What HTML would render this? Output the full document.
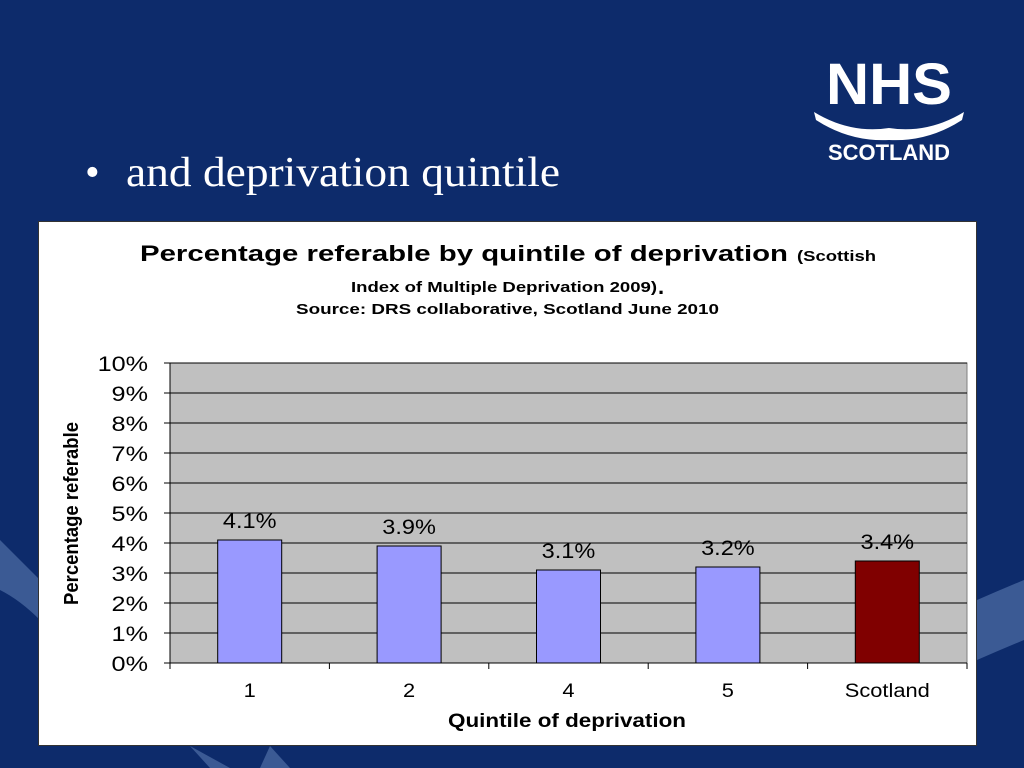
<!DOCTYPE html>
<html><head><meta charset="utf-8"><style>
body{margin:0;width:1024px;height:768px;overflow:hidden;background:#0d2b6b;font-family:"Liberation Sans",sans-serif;position:relative}
svg{position:absolute;left:0;top:0}
</style></head><body>
<svg width="1024" height="768">
<path d="M0 540 Q20 560 40 580 L40 620 Q20 600 0 590Z" fill="#3b5a94"/>
<path d="M977 600 Q1000 590 1024 580 L1024 640 Q1000 650 977 660Z" fill="#3b5a94"/>
<path d="M190 746 L230 768 L210 768Z" fill="#3b5a94"/>
<path d="M270 746 L260 768 L290 768Z" fill="#3b5a94"/>
</svg>
<svg id="chart" width="1024" height="768">
<g fill="#fff">
<text x="826" y="104" font-size="58" font-weight="bold" font-family="Liberation Sans, sans-serif" textLength="126" lengthAdjust="spacingAndGlyphs">NHS</text>
<path d="M814 112 Q850 134 889 128 Q928 134 964 112 L962 120 Q928 142 889 140 Q850 142 816 120Z"/>
<text x="828" y="160" font-size="22" font-weight="bold" font-family="Liberation Sans, sans-serif" textLength="122" lengthAdjust="spacingAndGlyphs">SCOTLAND</text>
</g>
<text x="85" y="186" font-size="42" fill="#fff" font-family="Liberation Serif, serif">•</text>
<text x="126" y="186" font-size="42" fill="#fff" font-family="Liberation Serif, serif" textLength="434" lengthAdjust="spacingAndGlyphs">and deprivation quintile</text>
<rect x="38.5" y="221.5" width="938" height="524" fill="#fff" stroke="#333"/>
<g font-family="Liberation Sans, sans-serif" font-weight="bold" fill="#000">
<text x="140" y="261" font-size="22" textLength="648" lengthAdjust="spacingAndGlyphs">Percentage referable by quintile of deprivation</text>
<text x="797" y="261" font-size="15" textLength="79" lengthAdjust="spacingAndGlyphs">(Scottish</text>
<text x="351" y="292" font-size="15" textLength="306" lengthAdjust="spacingAndGlyphs">Index of Multiple Deprivation 2009)</text>
<text x="658" y="294" font-size="22">.</text>
<text x="296" y="314" font-size="15" textLength="423" lengthAdjust="spacingAndGlyphs">Source: DRS collaborative, Scotland June 2010</text>
<text x="448" y="727" font-size="19" textLength="238" lengthAdjust="spacingAndGlyphs">Quintile of deprivation</text>
<text transform="translate(78,605) rotate(-90)" font-size="20" textLength="183" lengthAdjust="spacingAndGlyphs">Percentage referable</text>
</g>
</svg>
<script>
const categories=["1","2","4","5","Scotland"];
const values=[4.1,3.9,3.1,3.2,3.4];
const labels=["4.1%","3.9%","3.1%","3.2%","3.4%"];
const colors=["#9999ff","#9999ff","#9999ff","#9999ff","#800000"];
const yTicks=[0,1,2,3,4,5,6,7,8,9,10];
const NS="http://www.w3.org/2000/svg";
const svg=document.getElementById('chart');
const L=170,R=967,T=363,B=663,yMax=10;
const y=v=>B-(v/yMax)*(B-T);
const bw=(R-L)/categories.length;
const x=i=>L+bw*(i+0.5);
function mk(tag,a){const e=document.createElementNS(NS,tag);for(const k in a)e.setAttribute(k,a[k]);svg.appendChild(e);return e;}
function stretch(e,f){const w=e.getComputedTextLength();e.setAttribute('textLength',w*f);e.setAttribute('lengthAdjust','spacingAndGlyphs');}
const bg=mk('rect',{x:L,y:T,width:R-L,height:B-T,fill:'#c0c0c0',stroke:'#808080'});


yTicks.forEach(t=>{
 const g=mk('line',{x1:L-6,x2:R,y1:y(t),y2:y(t),stroke:'#000','stroke-width':1});
 
 
 const tx=mk('text',{x:148,y:y(t)+8,'text-anchor':'end','font-size':21,'font-family':'Liberation Sans, sans-serif',fill:'#000'});
 tx.textContent=t+'%';
 
 
 stretch(tx,1.2);
});
mk('line',{x1:L,x2:L,y1:T,y2:B,stroke:'#000'});
for(let i=0;i<=categories.length;i++){mk('line',{x1:L+bw*i,x2:L+bw*i,y1:B,y2:B+6,stroke:'#000'});}
categories.forEach((c,i)=>{
 const w=64;
 const r=mk('rect',{x:x(i)-w/2,y:y(values[i]),width:w,height:B-y(values[i]),fill:colors[i],stroke:'#000','stroke-width':1});
 
 
 const lb=mk('text',{x:x(i),y:y(values[i])-12,'text-anchor':'middle','font-size':21,'font-family':'Liberation Sans, sans-serif',fill:'#000'});
 lb.textContent=labels[i];
 
 
 stretch(lb,1.12);
 const xl=mk('text',{x:x(i),y:697,'text-anchor':'middle','font-size':19,'font-family':'Liberation Sans, sans-serif',fill:'#000'});
 xl.textContent=c;
 
 
 stretch(xl,1.15);
});
</script>
</body></html>
